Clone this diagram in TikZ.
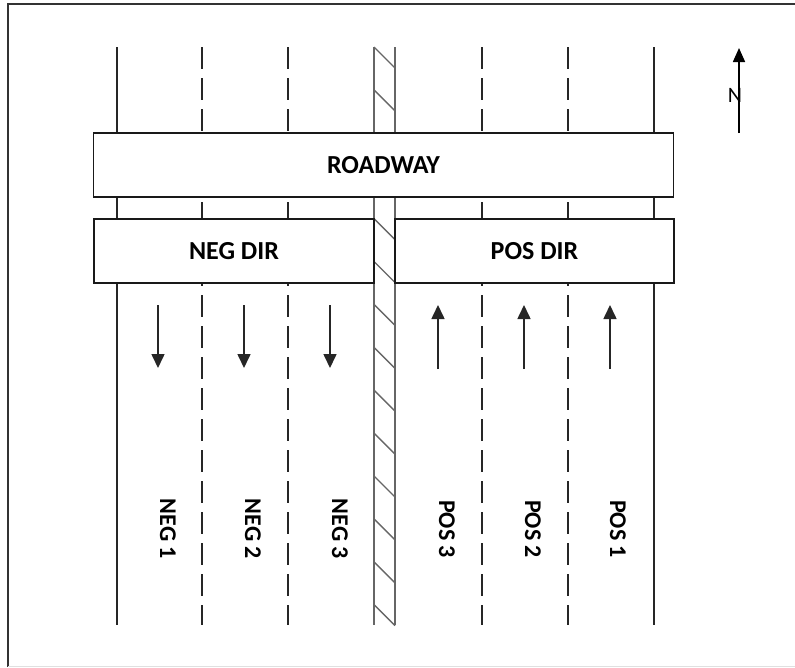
\documentclass[tikz,border=0pt]{standalone}
\usepackage{fontspec}
\setmainfont{Carlito}
\usetikzlibrary{arrows.meta}
\tikzset{
  laneline/.style={line width=1.6pt, draw=black!85},
  lanedash/.style={laneline, dash pattern=on 22pt off 9pt},
  medianline/.style={line width=1.4pt, draw=black!60},
  dirbox/.style={draw=black!90, line width=1.5pt, fill=white, inner sep=0pt},
  boxlabel/.style={font=\fontsize{26}{30}\selectfont\bfseries},
  lanelabel/.style={font=\fontsize{24}{28}\selectfont\bfseries, rotate=-90, inner sep=0pt},
  flow/.style={line width=1.6pt, draw=black!85, -{Triangle[width=13pt,length=14pt]}},
}
\begin{document}
\begin{tikzpicture}[x=1pt,y=-1pt]
\useasboundingbox (0,0) rectangle (795,667);
% frame
\draw[line width=1.3pt, black!80] (8,667) -- (8,4) -- (795,4);
\draw[line width=0.8pt, black!12] (8,666) -- (795,666);
% lane lines
\draw[laneline] (117,47) -- (117,625);
\draw[laneline] (654,47) -- (654,625);
\foreach \x in {202,288,482,568}{
  \draw[lanedash] (\x,47) -- (\x,625);
}
% median
\draw[medianline] (374,47) -- (374,625);
\draw[medianline] (395,47) -- (395,625);
\foreach \k in {0,...,13}{
  \draw[medianline] (374,47+42.9*\k) -- (395,68+42.9*\k);
}
% boxes
\node[dirbox, minimum width=580pt, minimum height=64pt, boxlabel] (roadway) at (383.5,165) {ROADWAY};
\node[dirbox, minimum width=280pt, minimum height=64pt, boxlabel] (negdir) at (234,251) {NEG DIR};
\node[dirbox, minimum width=279pt, minimum height=64pt, boxlabel] (posdir) at (534.5,251) {POS DIR};
% flow arrows
\foreach \x/\n in {158/a,244/b,330/c}{
  \coordinate (ns\n) at (\x,305);
  \coordinate (ne\n) at (\x,368);
  \draw[flow] (ns\n) -- (ne\n);
}
\foreach \x/\n in {438/a,524/b,610/c}{
  \coordinate (ps\n) at (\x,369);
  \coordinate (pe\n) at (\x,305);
  \draw[flow] (ps\n) -- (pe\n);
}
% lane labels
\node[lanelabel] (neg1) at (168,529) {NEG 1};
\node[lanelabel] (neg2) at (253,529) {NEG 2};
\node[lanelabel] (neg3) at (340,529) {NEG 3};
\node[lanelabel] (pos3) at (447,529) {POS 3};
\node[lanelabel] (pos2) at (533,529) {POS 2};
\node[lanelabel] (pos1) at (618,529) {POS 1};
% north arrow
\coordinate (nbot) at (739,133);
\coordinate (ntop) at (739,48);
\draw[line width=1.6pt, black, -{Triangle[width=12pt,length=14pt]}] (nbot) -- (ntop);
\node[font=\fontsize{22}{26}\selectfont, inner sep=0pt] (nlabel) at (735,95) {N};
\end{tikzpicture}
\end{document}
